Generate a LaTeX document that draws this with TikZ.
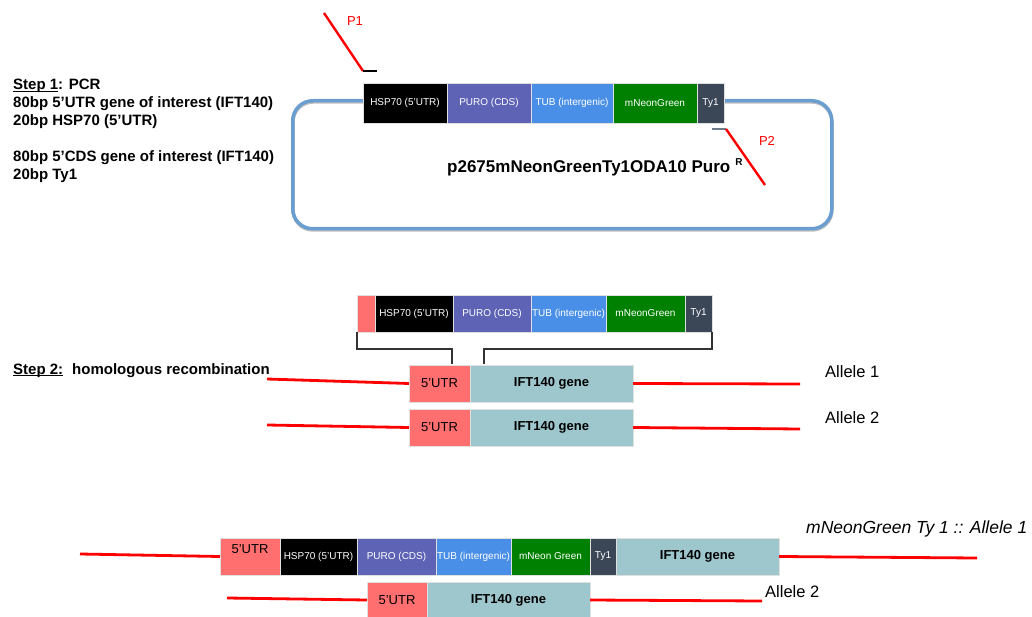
\documentclass[tikz,border=0pt]{standalone}
\usepackage{fontspec}
\setmainfont{Liberation Sans}
\definecolor{utr}{HTML}{FF6F6F}
\definecolor{puro}{HTML}{5E63B5}
\definecolor{tub}{HTML}{4A8FE7}
\definecolor{neon}{HTML}{008000}
\definecolor{tyone}{HTML}{3B4657}
\definecolor{ift}{HTML}{9EC6CD}
\definecolor{plas}{HTML}{6A9ED0}
\definecolor{dnared}{HTML}{FF0000}
\definecolor{tick}{HTML}{6D7A8A}
\newcommand\myul[1]{\setbox0\hbox{#1}\rlap{\rule[-1.7pt]{\wd0}{0.9pt}}\box0}
\begin{document}
\begin{tikzpicture}[x=1pt,y=-1pt,
  seg/.style={draw=black!12, line width=0.6pt, inner sep=0pt, outer sep=0pt, anchor=north west,
              text=white, font=\fontsize{10}{12}\selectfont},
  topseg/.style={seg, minimum height=40pt},
  midseg/.style={seg, minimum height=37pt},
  botseg/.style={seg, minimum height=37pt},
  utrbox/.style={fill=utr, text=black, font=\fontsize{13}{15}\selectfont},
  iftbox/.style={fill=ift, text=black, font=\bfseries\fontsize{13}{15}\selectfont},
  dna/.style={draw=dnared, line width=2.8pt},
  primer/.style={draw=dnared, line width=2.4pt},
  plab/.style={text=dnared, font=\fontsize{13}{15}\selectfont, inner sep=0pt},
  allele/.style={anchor=base west, inner sep=0pt, font=\fontsize{16.5}{19}\selectfont},
  bracket/.style={draw=black!80, line width=1.1pt},
  steptxt/.style={anchor=base west, inner sep=0pt, align=left, font=\bfseries\fontsize{15}{18}\selectfont}
]
\useasboundingbox (0,0) rectangle (1032,617);

% ---------- Step 1 text (base = last line) ----------
\node[steptxt] (s1) at (13,180) {\myul{Step 1}: PCR\\
80bp 5’UTR gene of interest (IFT140)\\
20bp HSP70 (5’UTR)\\[18pt]
80bp 5’CDS gene of interest (IFT140)\\
20bp Ty1};

% ---------- plasmid ----------
\draw[black, opacity=0.25, line width=3.5pt, rounded corners=20pt] (293,102) rectangle (832,230);
\node[draw=plas, line width=3.5pt, rounded corners=20pt, minimum width=539pt, minimum height=128pt,
      inner sep=0pt, anchor=north west] (plasmid) at (291,99) {};

\node[topseg, fill=black, minimum width=84pt] (t1) at (363,83) {HSP70 (5’UTR)};
\node[topseg, fill=puro, minimum width=84pt] (t2) at (447,83) {PURO (CDS)};
\node[topseg, fill=tub, minimum width=82pt] (t3) at (531,83) {TUB (intergenic)};
\node[topseg, fill=neon, minimum width=84pt] (t4) at (613,83) {mNeonGreen};
\node[topseg, fill=tyone, minimum width=27pt] (t5) at (697,83) {Ty1};

\node[anchor=base west, inner sep=0pt, font=\bfseries\fontsize{17}{20}\selectfont] (title) at (447,173)
  {p2675mNeonGreenTy1ODA10 Puro\hspace{5pt}\raisebox{7pt}{\fontsize{10}{10}\selectfont R}};

% primers
\coordinate (p1a) at (324,13);
\coordinate (p1b) at (363,71);
\coordinate (p1c) at (377,71);
\draw[primer] (p1a) -- (p1b);
\draw[black, line width=2pt] (p1b) -- (p1c);
\node[plab] (p1) at (355,21) {P1};

\coordinate (p2a) at (712,129);
\coordinate (p2b) at (726,129);
\coordinate (p2c) at (765,185);
\draw[tick, line width=2pt] (p2a) -- (p2b);
\draw[primer] (p2b) -- (p2c);
\node[plab] (p2) at (767,141) {P2};

% ---------- Step 2 ----------
\node[steptxt] (s2) at (13,374) {\myul{Step 2:}\hspace{9pt}homologous recombination};

\node[midseg, fill=utr, minimum width=18pt] (m0) at (357,295) {};
\node[midseg, fill=black, minimum width=78pt] (m1) at (375,295) {HSP70 (5’UTR)};
\node[midseg, fill=puro, minimum width=78pt] (m2) at (453,295) {PURO (CDS)};
\node[midseg, fill=tub, minimum width=75pt] (m3) at (531,295) {TUB (intergenic)};
\node[midseg, fill=neon, minimum width=79pt] (m4) at (606,295) {mNeonGreen};
\node[midseg, fill=tyone, minimum width=27pt] (m5) at (685,295) {Ty1};

\node[midseg, utrbox, minimum width=61pt] (a1u) at (409,365) {5’UTR};
\node[midseg, iftbox, minimum width=163pt] (a1g) at (470,365) {IFT140 gene};
\node[midseg, utrbox, minimum width=61pt] (a2u) at (409,409) {5’UTR};
\node[midseg, iftbox, minimum width=163pt] (a2g) at (470,409) {IFT140 gene};

\coordinate (bl) at (452,364);
\coordinate (br) at (484,364);
\draw[bracket] (m0.south west) -- ++(0,17) -| (bl);
\draw[bracket] (m5.south east) -- ++(0,17) -| (br);

\coordinate (a1l) at (267,379);
\coordinate (a1r) at (800,384);
\coordinate (a2l) at (267,425);
\coordinate (a2r) at (800,429);
\draw[dna] (a1l) -- (a1u.west);
\draw[dna] (a1g.east) -- (a1r);
\draw[dna] (a2l) -- (a2u.west);
\draw[dna] (a2g.east) -- (a2r);

\node[allele] (al1) at (825,377) {Allele 1};
\node[allele] (al2) at (825,423) {Allele 2};

% ---------- result ----------
\node[botseg, utrbox, minimum width=60pt, text depth=14pt] (b0) at (220,538) {5’UTR};
\node[botseg, fill=black, minimum width=77pt] (b1) at (280,538) {HSP70 (5’UTR)};
\node[botseg, fill=puro, minimum width=79pt] (b2) at (357,538) {PURO (CDS)};
\node[botseg, fill=tub, minimum width=75pt] (b3) at (436,538) {TUB (intergenic)};
\node[botseg, fill=neon, minimum width=79pt] (b4) at (511,538) {mNeon Green};
\node[botseg, fill=tyone, minimum width=26pt] (b5) at (590,538) {Ty1};
\node[botseg, iftbox, minimum width=163pt] (b6) at (616,538) {IFT140 gene};

\node[botseg, utrbox, minimum width=60pt, minimum height=36pt] (c0) at (367,582) {5’UTR};
\node[botseg, iftbox, minimum width=163pt, minimum height=36pt] (c1) at (427,582) {IFT140 gene};

\coordinate (b0l) at (80,554);
\coordinate (b6r) at (977,558);
\coordinate (c0l) at (227,598);
\coordinate (c1r) at (762,601);
\draw[dna] (b0l) -- (b0.west);
\draw[dna] (b6.east) -- (b6r);
\draw[dna] (c0l) -- (c0.west);
\draw[dna] (c1.east) -- (c1r);

\node[allele, font=\itshape\fontsize{17.5}{20}\selectfont] (res) at (806,533) {mNeonGreen Ty 1 :: Allele 1};
\node[allele] (al3) at (765,597) {Allele 2};
\end{tikzpicture}
\end{document}
